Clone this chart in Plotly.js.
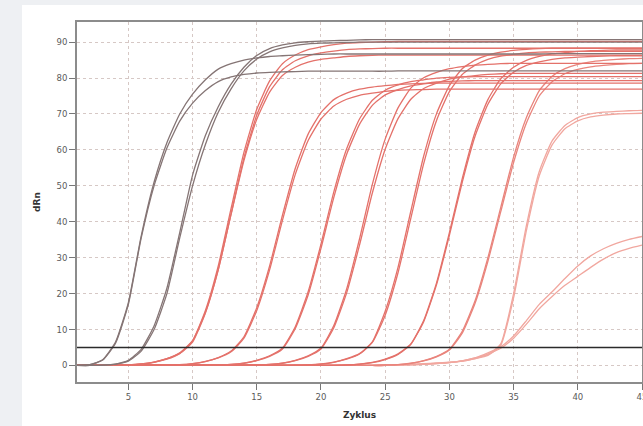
<!DOCTYPE html>
<html>
<head>
<meta charset="utf-8">
<script src="https://cdn.plot.ly/plotly-3.0.1.min.js"></script>
<style>
  html, body { margin: 0; padding: 0; background: #eef0f3; width: 643px; height: 426px; overflow: hidden; }
  #card { position: absolute; left: 22px; top: 5px; width: 640px; height: 440px; background: #ffffff; }
  #chart { position: absolute; left: 0; top: 0; width: 643px; height: 426px; }
</style>
</head>
<body>
<div id="card"></div>
<div id="chart"></div>
<script>
// Cycle numbers (x)
const cycles = [1,2,3,4,5,6,7,8,9,10,11,12,13,14,15,16,17,18,19,20,21,22,23,24,25,26,27,28,29,30,31,32,33,34,35,36,37,38,39,40,41,42,43,44,45];
const thresholdValue = 5;

// Gray (standard) curves
const grayA1 = [0,0.2,1.6,6.5,17.5,36,51,62,70,75.5,79.5,82.5,84,85,85.6,
  86,86.2,86.4,86.5,86.6,86.7,86.7,86.7,86.7,86.7,86.7,86.7,86.7,86.7,86.7,
  86.7,86.7,86.7,86.7,86.7,86.7,86.7,86.8,86.8,86.8,86.8,86.8,86.8,86.8,86.8];
const grayA2 = [0,0.2,1.5,6.2,17,35.5,50,60.5,68,73,76.5,79,80.3,81,81.4,
  81.6,81.7,81.8,81.9,81.9,81.9,81.9,81.9,81.9,81.9,82,82,82,82,82,
  82,82,82,82,82,82,82,82,82,82,82,82,82,82,82];
const grayB1 = [0,0,0.1,0.4,1.4,4.5,11,21.5,37,53,64,72,78.3,83,86.3,
  88.2,89.2,89.8,90.1,90.3,90.4,90.5,90.6,90.7,90.7,90.7,90.7,90.7,90.7,90.7,
  90.7,90.7,90.7,90.7,90.7,90.7,90.7,90.7,90.7,90.7,90.7,90.7,90.7,90.7,90.7];
const grayB2 = [0,0,0.1,0.35,1.2,4,10,20,35.5,50,61.5,70.5,77,82,85.3,
  87.3,88.4,89.1,89.5,89.7,89.8,89.9,90,90,90,90,90,90,90,90,
  90,90,90,90,90,90,90,90,90,90,90,90,90,90,90];

// Red (sample) curves
const red3a = [0,0,0.03,0.08,0.16,0.42,0.95,1.9,3.5,6.9,15.3,27.7,43.7,59.3,71.3,
  79.2,84,86.4,87.9,88.7,89.3,89.7,89.9,90,90.1,90.2,90.2,90.2,90.2,90.2,
  90.2,90.2,90.2,90.2,90.2,90.2,90.2,90.2,90.2,90.2,90.2,90.2,90.2,90.2,90.2];
const red3b = [0,0,0.03,0.07,0.15,0.38,0.88,1.75,3.3,6.5,14.6,26.6,42.2,57.8,69.7,
  77.6,82.3,84.8,86.2,87,87.5,87.9,88.1,88.2,88.3,88.3,88.3,88.3,88.3,88.3,
  88.3,88.3,88.3,88.3,88.3,88.3,88.3,88.3,88.3,88.3,88.3,88.3,88.3,88.3,88.3];
const red3c = [0,0,0.03,0.08,0.16,0.42,0.95,1.9,3.4,6.85,14.8,26.7,42.1,57,68.5,
  76.1,80.7,83,84.4,85.2,85.6,86,86.2,86.3,86.4,86.4,86.4,86.4,86.4,86.4,
  86.4,86.4,86.4,86.4,86.4,86.4,86.4,86.4,86.4,86.4,86.4,86.4,86.4,86.4,86.4];
const red4a = [0,0,0,0,0.02,0.05,0.1,0.15,0.21,0.52,1.14,2.2,4,8,16.1,
  27.7,41.8,54.9,64.4,70.4,74,75.8,76.9,77.5,77.9,78.2,78.4,78.5,78.6,78.6,
  78.6,78.6,78.6,78.6,78.6,78.6,78.6,78.6,78.6,78.6,78.6,78.6,78.6,78.6,78.6];
const red4b = [0,0,0,0,0.02,0.05,0.1,0.15,0.2,0.5,1.1,2.1,3.8,7.6,15.3,
  26.6,40.4,53.2,62.6,68.6,72.2,74.1,75.2,75.8,76.3,76.6,76.7,76.8,76.9,76.9,
  76.9,76.9,76.9,76.9,76.9,76.9,76.9,76.9,76.9,76.9,76.9,76.9,76.9,76.9,76.9];
const red5a = [0,0,0,0,0,0,0,0,0,0.05,0.1,0.18,0.29,0.67,1.44,
  2.7,4.85,10.8,20.5,33.8,48.3,60.3,68.6,73.8,76.6,78.1,79,79.5,80,80.2,
  80.3,80.4,80.4,80.4,80.4,80.4,80.4,80.4,80.4,80.4,80.4,80.4,80.4,80.4,80.4];
const red5b = [0,0,0,0,0,0,0,0,0,0.05,0.1,0.17,0.27,0.62,1.35,
  2.55,4.6,10.3,19.6,32.6,46.8,58.8,67.1,72.4,75.3,76.8,77.8,78.4,78.9,79.1,
  79.2,79.3,79.3,79.3,79.3,79.3,79.3,79.3,79.3,79.3,79.3,79.3,79.3,79.3,79.3];
const red6a = [0,0,0,0,0,0,0,0,0,0,0,0,0.05,0.1,0.18,
  0.29,0.67,1.44,2.7,4.85,11.1,21.3,35.2,50.4,63,71.7,77.2,80.1,81.6,82.6,
  83.2,83.6,83.8,84,84.1,84.1,84.1,84.1,84.1,84.1,84.1,84.1,84.1,84.1,84.1];
const red6b = [0,0,0,0,0,0,0,0,0,0,0,0,0.05,0.1,0.17,
  0.27,0.62,1.35,2.55,4.6,10.5,20.2,33.5,48,60.2,68.7,74.1,77.1,78.6,79.7,
  80.3,80.7,81,81.2,81.3,81.3,81.3,81.3,81.3,81.3,81.3,81.3,81.3,81.3,81.3];
const red7a = [0,0,0,0,0,0,0,0,0,0,0,0,0,0,0,
  0,0.03,0.08,0.16,0.42,0.95,1.9,3.3,6.6,15.1,27.3,43,58.3,70.1,77.9,
  82.6,85,86.4,87.2,87.7,88,88.2,88.3,88.3,88.3,88.3,88.3,88.3,88.3,88.3];
const red7b = [0,0,0,0,0,0,0,0,0,0,0,0,0,0,0,
  0,0.03,0.07,0.15,0.38,0.88,1.75,3.2,6.4,14,25.8,41,56.2,68.2,76.2,
  81,83.6,85.2,86.1,86.6,87,87.2,87.3,87.4,87.4,87.4,87.4,87.4,87.4,87.4];
const red8a = [0,0,0,0,0,0,0,0,0,0,0,0,0,0,0,
  0,0,0,0,0.02,0.05,0.14,0.38,0.86,1.76,3.24,6,12.5,23,37,
  52,65,74,79.8,83,84.9,86,86.7,87.1,87.4,87.6,87.7,87.8,87.8,87.8];
const red8b = [0,0,0,0,0,0,0,0,0,0,0,0,0,0,0,
  0,0,0,0,0.02,0.05,0.13,0.35,0.8,1.65,3.05,5.9,12.2,22.5,36.2,
  51,63.8,72.7,78.4,81.6,83.5,84.5,85.2,85.6,85.8,86,86.1,86.2,86.2,86.2];
const red9a = [0,0,0,0,0,0,0,0,0,0,0,0,0,0,0,
  0,0,0,0,0,0,0,0,0.05,0.14,0.26,0.62,1.34,2.54,4.5,
  9.5,18,30,44,58,69,76.5,80.5,82.6,83.8,84.5,84.9,85.2,85.4,85.5];
const red9b = [0,0,0,0,0,0,0,0,0,0,0,0,0,0,0,
  0,0,0,0,0,0,0,0,0.05,0.13,0.24,0.58,1.26,2.4,4.3,
  9,17.3,29,42.8,56.5,67.5,75,79,81.2,82.4,83.1,83.5,83.8,84,84.1];
const red10a = [0,0,0,0,0,0,0,0,0,0,0,0,0,0,0,
  0,0,0,0,0,0,0,0,0,0,0.1,0.2,0.35,0.55,0.85,
  1.3,2.1,3,6,20,39,54,62.5,66.8,69,70,70.5,70.7,70.9,71];
const red10b = [0,0,0,0,0,0,0,0,0,0,0,0,0,0,0,
  0,0,0,0,0,0,0,0,0,0,0.1,0.2,0.33,0.5,0.8,
  1.2,1.9,2.8,5.6,18.8,37.6,52.8,61.4,65.9,68.1,69.2,69.7,70,70.1,70.2];
const weak1 = [0,0,0,0,0,0,0,0,0,0,0,0,0,0,0,
  0,0,0,0,0,0,0,0,0,0,0.2,0.3,0.5,0.7,0.9,
  1.3,2.1,3.5,5.2,8.2,12.5,17,20.5,24.2,27.7,30.5,32.5,34,35.1,35.9];
const weak2 = [0,0,0,0,0,0,0,0,0,0,0,0,0,0,0,
  0,0,0,0,0,0,0,0,0,0,0.2,0.3,0.4,0.6,0.8,
  1.2,1.9,3.2,4.8,7.6,11.5,15.8,19.2,22.3,24.8,27.3,29.6,31.4,32.6,33.5];

const xTicks = [5,10,15,20,25,30,35,40,45];
const yTicks = [0,10,20,30,40,50,60,70,80,90];

const GRAY = '#857575';
const RED = '#e4716a';
const RED_MID = '#e9847c';
const RED_LIGHT = '#f1a79f';

const series = [
  [weak1, RED_LIGHT], [weak2, RED_LIGHT],
  [red10a, RED_LIGHT], [red10b, RED_LIGHT],
  [red9a, RED_MID], [red9b, RED_MID],
  [red8a, RED], [red8b, RED],
  [red7a, RED], [red7b, RED],
  [red6a, RED], [red6b, RED],
  [red5a, RED], [red5b, RED],
  [red4a, RED], [red4b, RED],
  [red3a, RED], [red3b, RED], [red3c, RED],
  [grayA1, GRAY], [grayA2, GRAY], [grayB1, GRAY], [grayB2, GRAY]
];

const traces = series.map(([ys, col]) => ({
  type: 'scatter', mode: 'lines', x: cycles, y: ys,
  line: { color: col, width: 1.3, shape: 'spline', smoothing: 0.5 },
  hoverinfo: 'skip', showlegend: false
}));

traces.push({
  type: 'scatter', mode: 'lines',
  x: [cycles[0], cycles[cycles.length - 1]], y: [thresholdValue, thresholdValue],
  line: { color: '#2b2b2b', width: 1.6 }, hoverinfo: 'skip', showlegend: false
});

const tickFont = { family: 'DejaVu Sans, Verdana, sans-serif', size: 8.5, color: '#5a5a5a' };
const titleFont = { family: 'DejaVu Sans, Verdana, sans-serif', size: 9, color: '#333333', weight: 'bold' };

const layout = {
  width: 643, height: 426,
  margin: { l: 77, r: 1, t: 22, b: 44 },
  paper_bgcolor: 'rgba(0,0,0,0)',
  plot_bgcolor: '#ffffff',
  showlegend: false,
  xaxis: {
    range: [1, 45], tickmode: 'array', tickvals: xTicks, ticktext: xTicks.map(String),
    ticks: 'outside', ticklen: 6, tickcolor: '#777777', tickwidth: 1,
    ticklabeloverflow: 'allow',
    showgrid: true, gridcolor: '#d6c8c5', griddash: 'dot', gridwidth: 1,
    zeroline: false, showline: true, linecolor: '#8c8c8c', linewidth: 2, mirror: true,
    tickfont: tickFont,
    title: { text: '<b>Zyklus</b>', font: titleFont, standoff: 10 }
  },
  yaxis: {
    range: [-4.6, 95.6], tickmode: 'array', tickvals: yTicks, ticktext: yTicks.map(String),
    ticks: 'outside', ticklen: 6, tickcolor: '#777777', tickwidth: 1,
    showgrid: true, gridcolor: '#d6c8c5', griddash: 'dot', gridwidth: 1,
    zeroline: false, showline: true, linecolor: '#8c8c8c', linewidth: 2, mirror: true,
    tickfont: tickFont,
    title: { text: '<b>dRn</b>', font: titleFont, standoff: 14 }
  }
};

Plotly.newPlot('chart', traces, layout, { staticPlot: true, displayModeBar: false });
</script>
</body>
</html>
